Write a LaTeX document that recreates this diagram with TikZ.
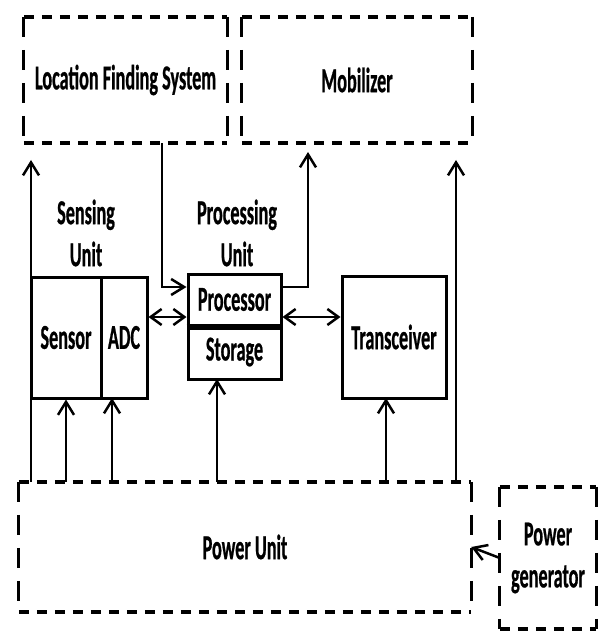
\documentclass[tikz,border=0pt]{standalone}
\usepackage{fontspec}
\setmainfont{Carlito}[FakeStretch=0.52,FakeBold=0.6]
\usetikzlibrary{arrows.meta}

% dashed frame drawn side by side: flat sides short and heavy, upright sides long and thin
\newcommand{\dashframe}[1]{%
  \draw[hdash] (#1.north west) -- (#1.north east) (#1.south west) -- (#1.south east);
  \draw[vdash] (#1.north west) -- (#1.south west) (#1.north east) -- (#1.south east);}

\begin{document}
\begin{tikzpicture}
	[x=1pt,y=-1pt,
	blk/.style={draw=black,line width=3pt,inner sep=0pt,align=center},
	dbx/.style={draw=none,inner sep=0pt,align=center},
	lbl/.style={align=center},
	hdash/.style={line width=4pt,dash pattern=on 10pt off 8pt},
	vdash/.style={line width=2.8pt,dash pattern=on 20pt off 13pt},
	arr/.style={line width=2.5pt,-{Straight Barb[length=13pt,width=16pt]}},
	darr/.style={line width=2.5pt,{Straight Barb[length=11pt,width=16pt]}-{Straight Barb[length=11pt,width=16pt]}},
	font=\fontsize{35}{42}\selectfont\bfseries
	]
	\useasboundingbox (0,0) rectangle (599,631);

	% dashed units
	\node[dbx,minimum width=203pt,minimum height=126pt] (lfs) at (125.5,80){Location Finding System};
	\node[dbx,minimum width=230pt,minimum height=126pt] (mob) at (357,80){Mobilizer};
	\node[dbx,minimum width=452pt,minimum height=130pt] (pu) at (245,547){Power Unit};
	\node[dbx,minimum width=96pt,minimum height=142pt] (pg) at (548,558){Power\\generator};
	\dashframe{lfs}
	\dashframe{mob}
	\dashframe{pu}
	\dashframe{pg}

	% solid blocks
	\node[blk,minimum width=70pt,minimum height=121pt] (sensor) at (66,337.5){Sensor};
	\node[blk,minimum width=46pt,minimum height=121pt] (adc) at (124,337.5){ADC};
	\node[blk,minimum width=93pt,minimum height=51pt] (proc) at (234.5,299.5){Processor};
	\node[blk,minimum width=93pt,minimum height=54pt] (sto) at (234.5,352){Storage};
	\node[blk,minimum width=104pt,minimum height=122pt] (trx) at (394,337){Transceiver};
	\draw[line width=6pt] (proc.south west) -- (proc.south east);

\node[lbl] (sulbl) at (86,233){Sensing\\Unit};
\node[lbl] (pulbl) at (237,233){Processing\\Unit};

	\coordinate (lfstip) at (31,160);
	\coordinate (mobtip) at (456,160);
	\coordinate (proctip) at (308,152);
	\coordinate (bendl) at (162,287);
	\coordinate (bendr) at (308,287);
	\coordinate (adcin) at (112,398);
	\coordinate (stoin) at (217,379);
	\coordinate (trxin) at (386,398);
	\coordinate (busy) at (0,317);

	\draw[arr] (lfstip |- pu.north) -- (lfstip);
	\draw[arr] (mobtip |- pu.north) -- (mobtip);
	\draw[arr] (sensor.south |- pu.north) -- (sensor.south);
	\draw[arr] (adcin |- pu.north) -- (adcin);
	\draw[arr] (stoin |- pu.north) -- (stoin);
	\draw[arr] (trxin |- pu.north) -- (trxin);
	\draw[arr] (bendl |- lfs.south) -- (bendl) -- (proc.west |- bendl);
	\draw[arr] (proc.east |- bendr) -- (bendr) -- (proctip);
	\draw[darr] (adc.east |- busy) -- (proc.west |- busy);
	\draw[darr] (proc.east |- busy) -- (trx.west |- busy);
	\draw[arr] (pg.west) -- (pu.east);
\end{tikzpicture}
\end{document}
